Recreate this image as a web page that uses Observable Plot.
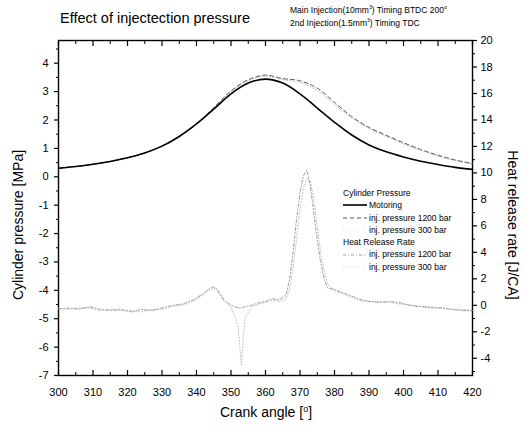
<!DOCTYPE html>
<html><head><meta charset="utf-8">
<script src="https://cdn.jsdelivr.net/npm/d3@7"></script>
<script src="https://cdn.jsdelivr.net/npm/@observablehq/plot@0.6"></script>
<style>
body{margin:0;background:#fff;font-family:"Liberation Sans",Arial,sans-serif;color:#000;}
#wrap{position:relative;width:523px;height:431px;overflow:hidden;background:#fff;}
#wrap svg{position:absolute;left:0;top:0;}
.t{position:absolute;white-space:nowrap;}
#title{left:60px;top:10px;font-size:14.5px;}
#sub{left:290px;top:4px;font-size:8.5px;line-height:13px;}
#sub sup{font-size:5px;line-height:0;}
#ylab{left:18px;top:225px;font-size:14px;transform:translate(-50%,-50%) rotate(-90deg);}
#rlab{left:513px;top:225px;font-size:14px;transform:translate(-50%,-50%) rotate(90deg);}
#xlab{left:266px;top:412px;font-size:14px;transform:translate(-50%,-50%);}
#legend{left:343px;top:187px;font-size:8.5px;line-height:12.3px;}
#legend .row{height:12.3px;display:flex;align-items:center;}
#legend svg{position:static;margin-right:2px;}
</style></head><body>
<div id="wrap">
<div class="t" id="title">Effect of injectection pressure</div>
<div class="t" id="sub">Main Injection(10mm<sup>3</sup>) Timing BTDC 200<sup>o</sup><br>2nd Injection(1.5mm<sup>3</sup>) Timing TDC</div>
<div class="t" id="ylab">Cylinder pressure [MPa]</div>
<div class="t" id="rlab">Heat release rate [J/CA]</div>
<div class="t" id="xlab">Crank angle [<sup style="font-size:9px">o</sup>]</div>
<div class="t" id="legend"></div>
</div>
<script>
// Cylinder pressure [MPa]
const angle    = [300,305,310,315,320,325,330,335,340,345,350,355,360,365,370,375,380,385,390,395,400,405,410,415,420];
const motoring = [0.30,0.36,0.44,0.54,0.67,0.84,1.08,1.42,1.86,2.38,2.92,3.30,3.44,3.30,2.92,2.42,1.92,1.47,1.12,0.88,0.70,0.55,0.43,0.33,0.26];
const cp1200   = [0.30,0.36,0.44,0.54,0.67,0.84,1.08,1.42,1.86,2.44,3.02,3.42,3.58,3.46,3.38,3.12,2.62,2.12,1.74,1.46,1.20,0.96,0.76,0.59,0.47];
const cp300    = [0.30,0.36,0.44,0.54,0.67,0.84,1.08,1.42,1.86,2.42,2.98,3.38,3.54,3.42,3.32,3.04,2.55,2.07,1.70,1.42,1.16,0.93,0.73,0.57,0.45];
// Heat release rate [J/CA]
const hrrAngle = [300,303,306,309,312,315,318,321,324,327,330,333,336,339,342,344,345,346,348,350,352,353,354,356,358,360,362,364,366,367,368,369,370,371,372,373,374,375,376,377,378,380,382,384,386,388,390,393,396,399,402,405,408,411,414,417,420];
const hrr1200  = [-0.3,-0.2,-0.3,-0.1,-0.3,-0.4,-0.3,-0.5,-0.3,-0.4,-0.2,0.0,0.1,0.4,0.9,1.3,1.4,1.2,0.4,0.0,-0.2,-0.2,-0.1,0.0,0.2,0.3,0.5,0.4,0.8,2.0,4.0,6.5,8.5,9.8,10.2,9.0,7.0,5.0,3.2,2.0,1.3,1.2,1.0,0.8,0.6,0.4,0.3,0.2,0.3,0.2,0.0,-0.1,-0.2,-0.2,-0.3,-0.4,-0.4];
const hrr300   = [-0.2,-0.3,-0.2,-0.2,-0.4,-0.3,-0.4,-0.4,-0.5,-0.3,-0.3,-0.1,0.0,0.3,0.8,1.2,1.3,1.1,0.3,-0.1,-1.5,-4.5,-1.0,-0.1,0.1,0.2,0.4,0.3,0.5,1.2,2.8,5.0,7.2,8.8,9.6,9.4,8.0,6.0,4.0,2.6,1.6,1.1,0.9,0.7,0.5,0.3,0.3,0.3,0.2,0.1,0.0,-0.1,-0.1,-0.2,-0.3,-0.3,-0.4];
// Axes
const xTicks = [300,310,320,330,340,350,360,370,380,390,400,410,420];
const leftTicks = [-7,-6,-5,-4,-3,-2,-1,0,1,2,3,4];
const rightTicks = [-4,-2,0,2,4,6,8,10,12,14,16,18,20];
const leftDomain = [-7, 4.8];
const rightDomain = [-5.3, 20];

const toL = v => leftDomain[0] + (v - rightDomain[0]) * (leftDomain[1]-leftDomain[0]) / (rightDomain[1]-rightDomain[0]);
const toR = l => rightDomain[0] + (l - leftDomain[0]) * (rightDomain[1]-rightDomain[0]) / (leftDomain[1]-leftDomain[0]);

const xMinor = xTicks.slice(0,-1).map(d => d + 5);
const lMinor = leftTicks.map(d => d + 0.5);
const rMinor = rightTicks.slice(0,-1).map(d => d + 1).concat([-5]);

const chart = Plot.plot({
  width: 523, height: 431,
  marginTop: 40, marginRight: 51, marginBottom: 56, marginLeft: 58,
  style: {fontFamily: '"Liberation Sans", Arial, sans-serif', fontSize: "11px", background: "transparent", overflow: "visible"},
  x: {domain: [300, 420], label: null},
  y: {domain: leftDomain, label: null},
  marks: [
    Plot.axisX(xTicks, {anchor: "bottom", tickSize: -5, tickPadding: 18, tickFormat: d => String(d), fontSize: 11, strokeWidth: 1.2}),
    Plot.axisX(xMinor, {anchor: "bottom", tickSize: -3, tickFormat: () => "", strokeWidth: 1}),
    Plot.axisX(xTicks, {anchor: "top", tickSize: -5, tickFormat: () => "", strokeWidth: 1.2}),
    Plot.axisX(xMinor, {anchor: "top", tickSize: -3, tickFormat: () => "", strokeWidth: 1}),
    Plot.axisY(leftTicks, {anchor: "left", tickSize: 4, tickPadding: 6, tickFormat: d => String(d), fontSize: 11, strokeWidth: 1.2}),
    Plot.axisY(lMinor, {anchor: "left", tickSize: 2, tickFormat: () => "", strokeWidth: 1}),
    Plot.axisY(rightTicks.map(toL), {anchor: "right", tickSize: 4, tickPadding: 4, tickFormat: d => String(Math.round(toR(d))), fontSize: 11, strokeWidth: 1.2}),
    Plot.axisY(rMinor.map(toL), {anchor: "right", tickSize: 2, tickFormat: () => "", strokeWidth: 1}),
    Plot.frame({stroke: "#000", strokeWidth: 1.4}),
    // heat release rate (right axis)
    Plot.lineY(hrr300.map(toL), {x: hrrAngle, stroke: "#b0b0b0", strokeWidth: 0.8, strokeDasharray: "1,2", curve: "linear"}),
    Plot.lineY(hrr1200.map(toL), {x: hrrAngle, stroke: "#888", strokeWidth: 0.8, strokeDasharray: "3,2,1,2", curve: "linear"}),
    // cylinder pressure (left axis)
    Plot.lineY(cp300, {x: angle, stroke: "#aaa", strokeWidth: 0.8, strokeDasharray: "1,2", curve: "catmull-rom"}),
    Plot.lineY(cp1200, {x: angle, stroke: "#555", strokeWidth: 1, strokeDasharray: "4,3", curve: "catmull-rom"}),
    Plot.lineY(motoring, {x: angle, stroke: "#000", strokeWidth: 1.6, curve: "catmull-rom"})
  ]
});
document.getElementById("wrap").prepend(chart);

// legend
const legendRows = [
  {text: "Cylinder Pressure", head: true},
  {text: "Motoring", stroke: "#000", w: 1.6, dash: null},
  {text: "inj. pressure 1200 bar", stroke: "#555", w: 1, dash: "4,3"},
  {text: "inj. pressure 300 bar", stroke: "#ccc", w: 0.8, dash: "1,3"},
  {text: "Heat Release Rate", head: true},
  {text: "inj. pressure 1200 bar", stroke: "#888", w: 0.8, dash: "3,2,1,2"},
  {text: "inj. pressure 300 bar", stroke: "#ccc", w: 0.8, dash: "1,3"}
];
const lg = document.getElementById("legend");
for (const r of legendRows) {
  const row = document.createElement("div");
  row.className = "row";
  if (!r.head) {
    const s = document.createElementNS("http://www.w3.org/2000/svg", "svg");
    s.setAttribute("width", 24); s.setAttribute("height", 6);
    const l = document.createElementNS("http://www.w3.org/2000/svg", "line");
    l.setAttribute("x1", 0); l.setAttribute("x2", 24); l.setAttribute("y1", 3); l.setAttribute("y2", 3);
    l.setAttribute("stroke", r.stroke); l.setAttribute("stroke-width", r.w);
    if (r.dash) l.setAttribute("stroke-dasharray", r.dash);
    s.appendChild(l);
    row.appendChild(s);
  }
  const t = document.createElement("span");
  t.textContent = r.text;
  row.appendChild(t);
  lg.appendChild(row);
}
</script>
</body></html>
